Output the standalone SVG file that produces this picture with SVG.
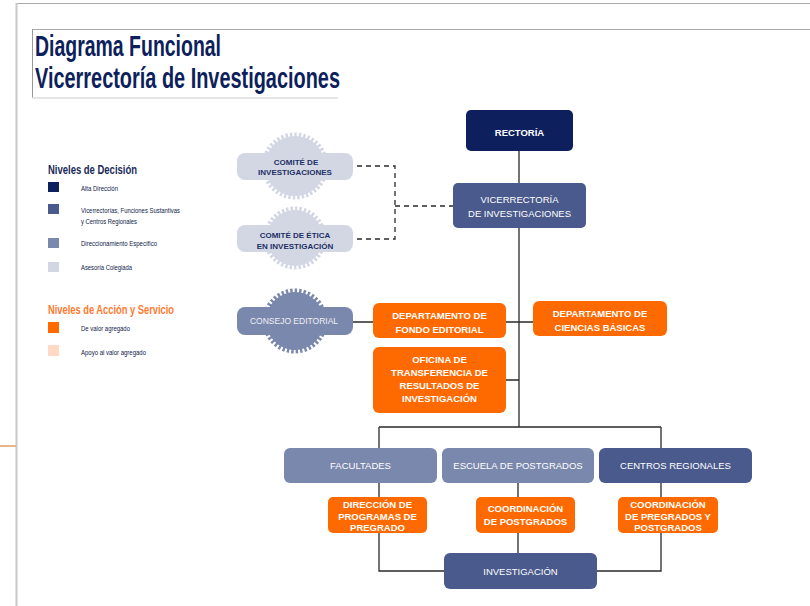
<svg xmlns="http://www.w3.org/2000/svg" width="810" height="606" viewBox="0 0 810 606">
<style>
.t{font-family:"Liberation Sans",Arial,sans-serif;text-anchor:middle;fill:#fff;font-size:9.5px}
.b{font-weight:bold}
.lg{font-family:"Liberation Sans Narrow","Liberation Sans",Arial,sans-serif;font-size:6.5px;fill:#0d1a4a}
.lh{font-family:"Liberation Sans Narrow","Liberation Sans",Arial,sans-serif;font-size:12px;font-weight:bold}
.ttl{font-family:"Liberation Sans Narrow","Liberation Sans",Arial,sans-serif;font-size:29px;fill:#0d1f5c}
.ln{fill:none;stroke:#2a2a2a;stroke-width:1.3}
.dash{fill:none;stroke:#2a2a2a;stroke-width:1.3;stroke-dasharray:5 4}
.navy{fill:#0d1f5c}.blue{fill:#4a5a8c}.mid{fill:#7b88ad}.pale{fill:#d3d7e3}.org{fill:#ff6a00}.peach{fill:#ffd9c4}
</style>
<rect width="810" height="606" fill="#fff"/>
<g id="frame">
<line x1="16" y1="3.5" x2="810" y2="3.5" stroke="#aaa" stroke-width="1"/>
<line x1="16.5" y1="3" x2="16.5" y2="606" stroke="#c8c8c8" stroke-width="2"/>
<line x1="0" y1="446" x2="16" y2="446" stroke="#e0a060" stroke-width="1.5"/>
<line x1="32" y1="29.5" x2="810" y2="29.5" stroke="#aaa" stroke-width="1"/>
<line x1="32.5" y1="29" x2="32.5" y2="98" stroke="#999" stroke-width="1"/>
<line x1="32" y1="98" x2="338" y2="98" stroke="#ddd" stroke-width="1.5"/>
</g>
<g id="title">
<text class="ttl b" x="35" y="56" textLength="186" lengthAdjust="spacingAndGlyphs">Diagrama Funcional</text>
<text class="ttl b" x="35" y="88" textLength="305" lengthAdjust="spacingAndGlyphs">Vicerrectoría de Investigaciones</text>
</g>
<g id="legend">
<text class="lh" x="48" y="174" fill="#1a2a5a" textLength="89" lengthAdjust="spacingAndGlyphs">Niveles de Decisión</text>
<rect class="navy" x="48" y="182" width="11" height="10"/>
<text class="lg" x="81" y="190.5" textLength="37" lengthAdjust="spacingAndGlyphs">Alta Dirección</text>
<rect class="blue" x="48" y="204" width="11" height="10"/>
<text class="lg" x="81" y="213" textLength="99" lengthAdjust="spacingAndGlyphs">Vicerrectorías, Funciones Sustantivas</text>
<text class="lg" x="81" y="224" textLength="56" lengthAdjust="spacingAndGlyphs">y Centros Regionales</text>
<rect class="mid" x="48" y="238" width="11" height="10"/>
<text class="lg" x="81" y="245.5" textLength="76" lengthAdjust="spacingAndGlyphs">Direccionamiento Específico</text>
<rect class="pale" x="48" y="262" width="11" height="10"/>
<text class="lg" x="81" y="269.5" textLength="51" lengthAdjust="spacingAndGlyphs">Asesoría Colegiada</text>
<text class="lh" x="48" y="314" fill="#ff7a30" textLength="126" lengthAdjust="spacingAndGlyphs">Niveles de Acción y Servicio</text>
<rect class="org" x="48" y="322" width="11" height="11"/>
<text class="lg" x="81" y="330.5" textLength="49" lengthAdjust="spacingAndGlyphs">De valor agregado</text>
<rect class="peach" x="48" y="345" width="11" height="11"/>
<text class="lg" x="81" y="354.5" textLength="65" lengthAdjust="spacingAndGlyphs">Apoyo al valor agregado</text>
</g>
<g id="connectors">
<path class="ln" d="M519 151V427M379 427H661M379 427V571H444M661 427V571H597M518 483V553M353 322H373M506 322H533M506 380H519"/>
<path class="dash" d="M357 166H395V239H357M395 206H453"/>
</g>
<g id="rectoria">
<rect class="navy" x="466" y="110" width="107" height="41" rx="5"/>
<text class="t b" x="519.5" y="135.5">RECTORÍA</text>
</g>
<g id="vicerrectoria">
<rect class="blue" x="453" y="183" width="133" height="45" rx="5"/>
<text class="t" x="519.5" y="202.5">VICERRECTORÍA</text>
<text class="t" x="519.5" y="216.5">DE INVESTIGACIONES</text>
</g>
<g id="comite-investigaciones">
<circle class="pale" cx="295" cy="166" r="30"/>
<circle cx="295" cy="166" r="31" fill="none" stroke="#d3d7e3" stroke-width="5" stroke-dasharray="2.4 2"/>
<rect class="pale" x="237" y="153" width="116" height="27" rx="8"/>
<text class="t b" x="296" y="165" style="font-size:8px;fill:#1e2f66">COMITÉ DE</text>
<text class="t b" x="295" y="175" style="font-size:8px;fill:#1e2f66">INVESTIGACIONES</text>
</g>
<g id="comite-etica">
<circle class="pale" cx="295" cy="238" r="28"/>
<circle cx="295" cy="238" r="29" fill="none" stroke="#d3d7e3" stroke-width="5" stroke-dasharray="2.4 2"/>
<rect class="pale" x="237" y="225" width="116" height="27" rx="8"/>
<text class="t b" x="295" y="238" style="font-size:8px;fill:#1e2f66">COMITÉ DE ÉTICA</text>
<text class="t b" x="295" y="249" style="font-size:8px;fill:#1e2f66">EN INVESTIGACIÓN</text>
</g>
<g id="consejo-editorial">
<circle class="mid" cx="295" cy="321" r="29"/>
<circle cx="295" cy="321" r="30" fill="none" stroke="#7b88ad" stroke-width="5" stroke-dasharray="2.4 2"/>
<rect class="mid" x="237" y="307" width="116" height="28" rx="8"/>
<text class="t" x="294" y="324" style="font-size:8.5px;fill:#eef0f5">CONSEJO EDITORIAL</text>
</g>
<g id="fondo-editorial">
<rect class="org" x="373" y="303" width="133" height="35" rx="6"/>
<text class="t b" x="439.5" y="318.5">DEPARTAMENTO DE</text>
<text class="t b" x="439.5" y="332.5">FONDO EDITORIAL</text>
</g>
<g id="ciencias-basicas">
<rect class="org" x="533" y="301" width="134" height="35" rx="6"/>
<text class="t b" x="600" y="316.5">DEPARTAMENTO DE</text>
<text class="t b" x="600" y="330.5">CIENCIAS BÁSICAS</text>
</g>
<g id="oficina">
<rect class="org" x="373" y="347" width="133" height="66" rx="6"/>
<text class="t b" x="439.5" y="363">OFICINA DE</text>
<text class="t b" x="439.5" y="376">TRANSFERENCIA DE</text>
<text class="t b" x="439.5" y="389">RESULTADOS DE</text>
<text class="t b" x="439.5" y="402">INVESTIGACIÓN</text>
</g>
<g id="facultades">
<rect class="mid" x="284" y="448" width="153" height="35" rx="6"/>
<text class="t" x="360.5" y="469">FACULTADES</text>
</g>
<g id="escuela-postgrados">
<rect class="mid" x="442" y="448" width="152" height="35" rx="6"/>
<text class="t" x="518" y="469">ESCUELA DE POSTGRADOS</text>
</g>
<g id="centros-regionales">
<rect class="blue" x="599" y="448" width="153" height="35" rx="6"/>
<text class="t" x="675.5" y="469">CENTROS REGIONALES</text>
</g>
<g id="direccion-pregrado">
<rect class="org" x="328" y="497" width="99" height="36" rx="5"/>
<text class="t b" x="377.5" y="507.5">DIRECCIÓN DE</text>
<text class="t b" x="377.5" y="519.5">PROGRAMAS DE</text>
<text class="t b" x="377.5" y="531">PREGRADO</text>
</g>
<g id="coord-postgrados">
<rect class="org" x="476" y="497" width="99" height="36" rx="5"/>
<text class="t b" x="525.5" y="511.5">COORDINACIÓN</text>
<text class="t b" x="525.5" y="524.5">DE POSTGRADOS</text>
</g>
<g id="coord-pregrados-postgrados">
<rect class="org" x="618" y="497" width="100" height="36" rx="5"/>
<text class="t b" x="668" y="507.5">COORDINACIÓN</text>
<text class="t b" x="668" y="519.5">DE PREGRADOS Y</text>
<text class="t b" x="668" y="531">POSTGRADOS</text>
</g>
<g id="investigacion">
<rect class="blue" x="444" y="553" width="153" height="36" rx="6"/>
<text class="t" x="520.5" y="575">INVESTIGACIÓN</text>
</g>
</svg>
